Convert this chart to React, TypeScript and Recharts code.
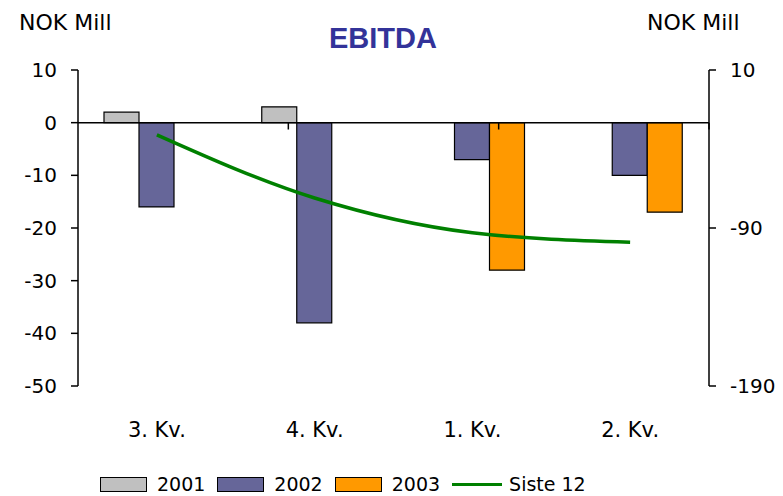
import React from "react";
import {
  ComposedChart,
  Bar,
  Line,
  XAxis,
  YAxis,
  Legend,
  ReferenceLine,
} from "recharts";

// quarterly EBITDA, NOK mill
const quarters = ["3. Kv.", "4. Kv.", "1. Kv.", "2. Kv."];
const y2001 = [2, 3, null, null];
const y2002 = [-16, -38, -7, -10];
const y2003 = [null, null, -28, -17];
const siste12 = [-31, -71, -93, -99];

const leftTicks = [10, 0, -10, -20, -30, -40, -50];
const rightTicks = [10, -90, -190];

const series = [
  { key: "y2001", name: "2001", color: "#C0C0C0", kind: "bar" },
  { key: "y2002", name: "2002", color: "#666699", kind: "bar" },
  { key: "y2003", name: "2003", color: "#FF9900", kind: "bar" },
  { key: "siste12", name: "Siste 12", color: "#008000", kind: "line" },
];

const rows = quarters.map((q, i) => ({
  q,
  y2001: y2001[i],
  y2002: y2002[i],
  y2003: y2003[i],
  siste12: siste12[i],
}));

const FONT = "DejaVu Sans";
const tickStyle = { fill: "#000", fontSize: 20, fontFamily: FONT };

function LegendBox() {
  return (
    <div style={{ display: "flex", alignItems: "center", height: 24, fontFamily: FONT, fontSize: 19, color: "#000" }}>
      {series.map((s) => (
        <div key={s.key} style={{ display: "flex", alignItems: "center", marginRight: 12 }}>
          {s.kind === "bar" ? (
            <div style={{ width: 45, height: 13, background: s.color, border: "1px solid #000", marginRight: 10 }} />
          ) : (
            <div style={{ width: 50, height: 3, background: s.color, marginRight: 7 }} />
          )}
          <span>{s.name}</span>
        </div>
      ))}
    </div>
  );
}

export default function App() {
  const bounds = quarters.slice(1).map((_, i) => i + 1);
  return (
    <div style={{ position: "absolute", left: 0, top: 0, width: 783, height: 496, background: "#fff", fontFamily: FONT }}>
      <div style={{ position: "absolute", left: 19, top: 10, fontSize: 22 }}>NOK Mill</div>
      <div style={{ position: "absolute", left: 647, top: 10, fontSize: 22 }}>NOK Mill</div>
      <div
        style={{
          position: "absolute",
          left: 0,
          width: 766,
          top: 22,
          textAlign: "center",
          fontSize: 29,
          fontWeight: "bold",
          fontFamily: "Liberation Sans",
          color: "#333399",
        }}
      >
        EBITDA
      </div>
      <ComposedChart
        width={783}
        height={496}
        data={rows}
        margin={{ top: 70, right: 14, left: 18, bottom: 0 }}
        barCategoryGap={26}
        barGap={0}
      >
        <XAxis
          xAxisId="cat"
          dataKey="q"
          height={86}
          axisLine={false}
          tickLine={false}
          tick={{ ...tickStyle, fontSize: 21 }}
          tickMargin={30}
        />
        <XAxis xAxisId="num" type="number" domain={[0, quarters.length]} hide allowDataOverflow />
        <YAxis
          yAxisId="left"
          domain={[-50, 10]}
          ticks={leftTicks}
          width={60}
          tick={tickStyle}
          tickSize={7}
          tickMargin={14}
          axisLine={{ stroke: "#000", strokeWidth: 1.5 }}
          tickLine={{ stroke: "#000", strokeWidth: 1.5 }}
        />
        <YAxis
          yAxisId="right"
          orientation="right"
          domain={[-190, 10]}
          ticks={rightTicks}
          width={60}
          tick={tickStyle}
          tickSize={7}
          tickMargin={14}
          axisLine={{ stroke: "#000", strokeWidth: 1.5 }}
          tickLine={{ stroke: "#000", strokeWidth: 1.5 }}
        />
        {series
          .filter((s) => s.kind === "bar")
          .map((s) => (
            <Bar
              key={s.key}
              xAxisId="cat"
              yAxisId="left"
              dataKey={s.key}
              name={s.name}
              fill={s.color}
              stroke="#000"
              strokeWidth={1.2}
              isAnimationActive={false}
            />
          ))}
        <ReferenceLine xAxisId="cat" yAxisId="left" y={0} stroke="#000" strokeWidth={1.5} />
        {bounds.map((b) => (
          <ReferenceLine
            key={b}
            xAxisId="num"
            yAxisId="left"
            segment={[
              { x: b, y: 0 },
              { x: b, y: -1.3 },
            ]}
            stroke="#000"
            strokeWidth={1.5}
          />
        ))}
        <Line
          xAxisId="cat"
          yAxisId="right"
          type="monotone"
          dataKey="siste12"
          name="Siste 12"
          stroke="#008000"
          strokeWidth={3.5}
          dot={false}
          isAnimationActive={false}
        />
        <Legend
          content={() => <LegendBox />}
          verticalAlign="bottom"
          wrapperStyle={{ left: 100, width: 600 }}
        />
      </ComposedChart>
    </div>
  );
}
